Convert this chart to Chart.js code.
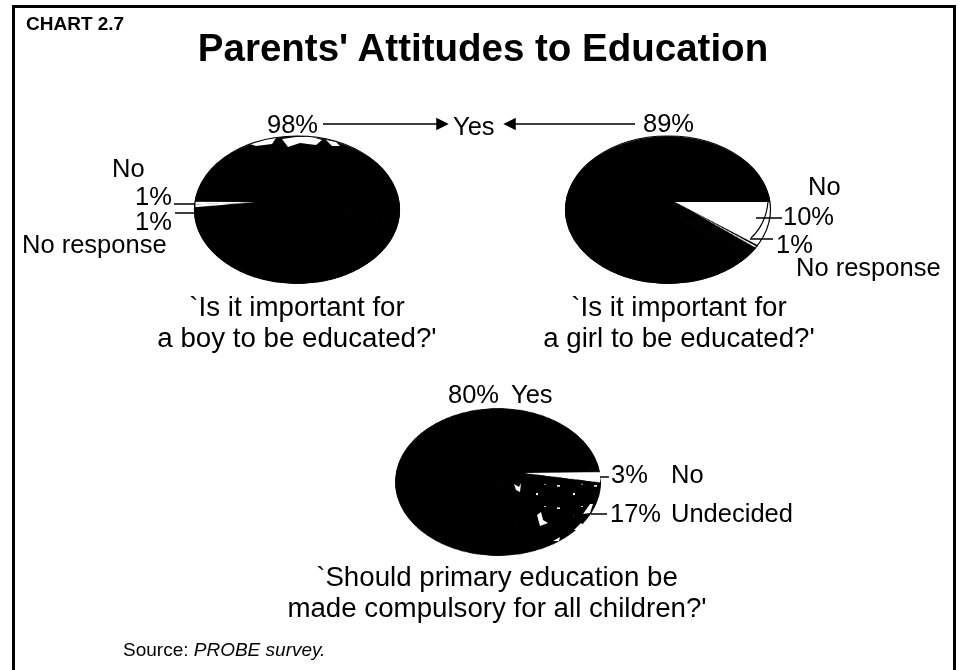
<!DOCTYPE html>
<html>
<head>
<meta charset="utf-8">
<title>Parents' Attitudes to Education</title>
<script src="https://cdn.jsdelivr.net/npm/chart.js@4"></script>
<style>
  html, body { margin: 0; padding: 0; background: #fff; }
  #page { position: relative; width: 960px; height: 670px; overflow: hidden;
          font-family: "Liberation Sans", Arial, sans-serif; color: #000; }
  #frame { position: absolute; left: 12px; top: 5px; width: 944px; height: 680px;
           border: 3px solid #000; box-sizing: border-box; }
  .pie { position: absolute; transform-origin: 50% 50%; }
  .t { position: absolute; white-space: nowrap; font-size: 25.5px; line-height: 26px; }
  .c { text-align: center; transform: translateX(-50%); font-size: 27.7px; line-height: 31px; }
  svg { position: absolute; left: 0; top: 0; }
</style>
</head>
<body>
<div id="page">
  <div id="frame"></div>

  <div id="pies"></div>

  <svg width="960" height="670" fill="none" stroke="#000" stroke-width="1.5">
    <path d="M323 124H438M513 124H635"/>
    <path d="M447 124l-10 -5v10zM505 124l10 -5v10z" fill="#000"/>
    <path d="M174 204H195M175 213H195"/>
    <path d="M756 218H782M750 239H773"/>
    <path d="M768 202Q766 224 751 238" stroke-width="1.2"/>
    <path d="M600 477H609M591 514H607"/>
    <!-- scan noise on the printed pies -->
    <g fill="#fff" stroke="none">
      <path d="M250 144L262 139L276 138L272 144L256 146Z"/>
      <path d="M282 139L296 137L312 137L322 140L316 145L300 143L288 147Z"/>
      <path d="M326 140L336 142L340 146L332 146Z"/>
      <path d="M590 504L593 504L590 513L583 514Z"/>
      <path d="M581 523L574 530L577 530L583 525Z"/>
      <path d="M553 541L560 537L559 541Z"/>
      <path d="M514 484L519 487L521 483L520 492L516 490Z"/>
      <path d="M537 515L541 512L543 520L548 523L540 526Z"/>
    </g>
    <ellipse cx="297" cy="209.5" rx="102.5" ry="73.5" stroke-width="1.2"/>
    <ellipse cx="668" cy="209.5" rx="102.5" ry="73.5" stroke-width="1.2"/>
  </svg>

  <div class="t" style="left:26px;top:14px;font-size:19px;font-weight:bold;line-height:20px">CHART 2.7</div>
  <div class="t c" style="left:483px;top:27px;font-size:38.5px;line-height:42px;font-weight:bold">Parents' Attitudes to Education</div>

  <div class="t" style="left:267px;top:111px">98%</div>
  <div class="t" style="left:453px;top:113px">Yes</div>
  <div class="t" style="left:643px;top:110px">89%</div>

  <div class="t" style="left:112px;top:155px">No</div>
  <div class="t" style="left:135px;top:183px">1%</div>
  <div class="t" style="left:135px;top:208px">1%</div>
  <div class="t" style="left:22px;top:231px">No response</div>

  <div class="t" style="left:808px;top:173px">No</div>
  <div class="t" style="left:783px;top:203px">10%</div>
  <div class="t" style="left:776px;top:231px">1%</div>
  <div class="t" style="left:796px;top:254px">No response</div>

  <div class="t c" style="left:297px;top:291px">`Is it important for<br>a boy to be educated?'</div>
  <div class="t c" style="left:679px;top:291px">`Is it important for<br>a girl to be educated?'</div>

  <div class="t" style="left:448px;top:381px">80%</div>
  <div class="t" style="left:511px;top:381px">Yes</div>
  <div class="t" style="left:611px;top:461px">3%</div>
  <div class="t" style="left:671px;top:461px">No</div>
  <div class="t" style="left:610px;top:500px">17%</div>
  <div class="t" style="left:671px;top:500px">Undecided</div>

  <div class="t c" style="left:497px;top:561px">`Should primary education be<br>made compulsory for all children?'</div>

  <div class="t" style="left:123px;top:640px;font-size:19px;line-height:20px">Source: <i>PROBE survey.</i></div>
</div>

<script>
// values, clockwise from the white wedge
const boyLabels = ['No response', 'No', 'Yes'];
const boyValues = [1, 1, 98];
const girlLabels = ['No', 'No response', 'Yes'];
const girlValues = [10, 1, 89];
const compulsoryLabels = ['No', 'Undecided', 'Yes'];
const compulsoryValues = [3, 17, 80];

const squash = 0.717; // the pies are printed as flat ellipses

function speckle() {
    // black fill with scan noise, used for the Undecided slice
    const c = document.createElement('canvas');
    c.width = 37;
    c.height = 31;
    const g = c.getContext('2d');
    g.fillStyle = '#000';
    g.fillRect(0, 0, 37, 31);
    g.fillStyle = '#fff';
    g.fillRect(5, 6, 3, 2);
    g.fillRect(21, 17, 2, 3);
    g.fillRect(29, 4, 2, 1);
    return g.createPattern(c, 'repeat');
}

function addPie(cx, cy, radius, labels, values, rotation, colors, offsets) {
    const size = Math.ceil(radius) * 2 + 8;
    const box = document.createElement('div');
    box.className = 'pie';
    box.style.left = (cx - size / 2) + 'px';
    box.style.top = (cy - size / 2) + 'px';
    box.style.width = size + 'px';
    box.style.height = size + 'px';
    box.style.transform = `scaleY(${squash})`;
    const canvas = document.createElement('canvas');
    canvas.width = size;
    canvas.height = size;
    box.appendChild(canvas);
    document.getElementById('pies').appendChild(box);

    new Chart(canvas.getContext('2d'), {
        type: 'pie',
        data: {
            labels: labels,
            datasets: [{
                data: values,
                backgroundColor: colors,
                // same colour border closes the seams on the solid discs
                borderColor: colors,
                borderWidth: offsets === undefined && colors[2] === '#000' ? 1 : 0,
                offset: offsets || 0
            }]
        },
        options: {
            responsive: false,
            animation: false,
            devicePixelRatio: 1,
            radius: radius,
            rotation: rotation,
            layout: { padding: 0 },
            plugins: { legend: { display: false }, tooltip: { enabled: false } }
        }
    });
}

// black disc first, then the wedges on a second pie centred on the printed apex
addPie(297, 209.5, 102.5, boyLabels, boyValues, 90, ['#000', '#000', '#000']);
addPie(255, 201.5, 60, boyLabels, boyValues, 263, ['#fff', '#fff', 'rgba(0,0,0,0)']);

addPie(668, 209.5, 102.5, girlLabels, girlValues, 90, ['#000', '#000', '#000']);
addPie(675, 201.5, 130, girlLabels, girlValues, 90, ['#fff', '#fff', 'rgba(0,0,0,0)'], [0, 80, 0]);

addPie(497.5, 481.5, 102.5, compulsoryLabels, compulsoryValues, 90, ['#000', '#000', '#000']);
addPie(523, 473, 78, compulsoryLabels, compulsoryValues, 89, ['#fff', speckle(), 'rgba(0,0,0,0)']);
</script>
</body>
</html>
